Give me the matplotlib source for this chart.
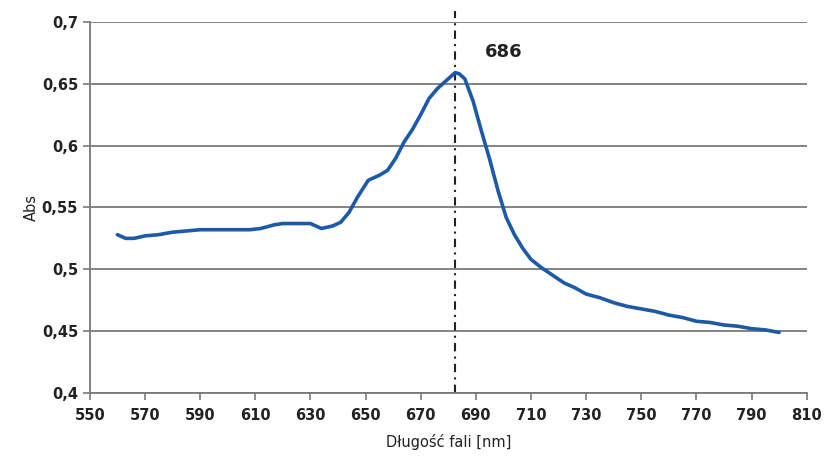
import numpy as np
import matplotlib
matplotlib.use('Agg')
import matplotlib.pyplot as plt
from matplotlib.ticker import FuncFormatter

# spectrum
wavelength = [560, 563, 566, 570, 575, 580, 585, 590, 600, 608, 612, 617, 620, 625,
              630, 634, 638, 641, 644, 647, 651, 655, 658, 661, 664, 667, 670, 673,
              676, 679, 681, 682.5, 684, 686, 689, 692, 695, 698, 701, 704, 707,
              710, 714, 718, 722, 726, 730, 735, 740, 745, 750, 755, 760, 765, 770,
              775, 780, 785, 790, 795, 800]
absorbance = [0.528, 0.525, 0.525, 0.527, 0.528, 0.530, 0.531, 0.532, 0.532, 0.532,
              0.533, 0.536, 0.537, 0.537, 0.537, 0.533, 0.535, 0.538, 0.546, 0.558,
              0.572, 0.576, 0.580, 0.590, 0.603, 0.613, 0.625, 0.638, 0.646, 0.652,
              0.656, 0.659, 0.658, 0.654, 0.636, 0.612, 0.589, 0.564, 0.542, 0.528,
              0.517, 0.508, 0.501, 0.495, 0.489, 0.485, 0.480, 0.477, 0.473, 0.470,
              0.468, 0.466, 0.463, 0.461, 0.458, 0.457, 0.455, 0.454, 0.452, 0.451,
              0.449]
peak_x = 682.5
peak_label = '686'
x_ticks = list(range(550, 811, 20))
y_ticks = [0.4, 0.45, 0.5, 0.55, 0.6, 0.65, 0.7]

C_LINE = '#1c5aa8'
C_GRID = '#7a7a7a'

fig = plt.figure(figsize=(8.24, 4.61), dpi=100)
ax = fig.add_axes([0.109, 0.1475, 0.870, 0.805])

ax.plot(wavelength, absorbance, '-', color=C_LINE, linewidth=2.6,
        solid_capstyle='round', solid_joinstyle='round', zorder=3)
ax.axvline(peak_x, ymin=0, ymax=1.03, color='#222222', linestyle=(0, (4, 2.5, 1, 2.5)),
           linewidth=1.5, clip_on=False, zorder=2)
ax.text(700, 0.676, peak_label, fontsize=13, fontweight='semibold',
        ha='center', va='center', color='#222222')

ax.set_xlim(550, 810)
ax.set_ylim(0.4, 0.7)
ax.set_xticks(x_ticks)
ax.set_yticks(y_ticks)
ax.yaxis.set_major_formatter(FuncFormatter(lambda v, p: ('%g' % v).replace('.', ',')))
ax.grid(axis='y', color=C_GRID, linewidth=1.3)
ax.set_axisbelow(True)
for s in ['top', 'right']:
    ax.spines[s].set_visible(False)
for s in ['left', 'bottom']:
    ax.spines[s].set_color(C_GRID)
    ax.spines[s].set_linewidth(1.3)
ax.tick_params(axis='both', direction='out', length=5, color=C_GRID, width=1.2,
               labelsize=10.5, labelcolor='#222222')
for lab in ax.get_xticklabels() + ax.get_yticklabels():
    lab.set_fontweight('bold')
ax.tick_params(axis='x', pad=6)

ax.set_xlabel('Długość fali [nm]', fontsize=10.5, color='#222222', labelpad=8)
ax.set_ylabel('Abs', fontsize=10.5, color='#222222', labelpad=2)

plt.savefig('out.png', dpi=100)
plt.close()
